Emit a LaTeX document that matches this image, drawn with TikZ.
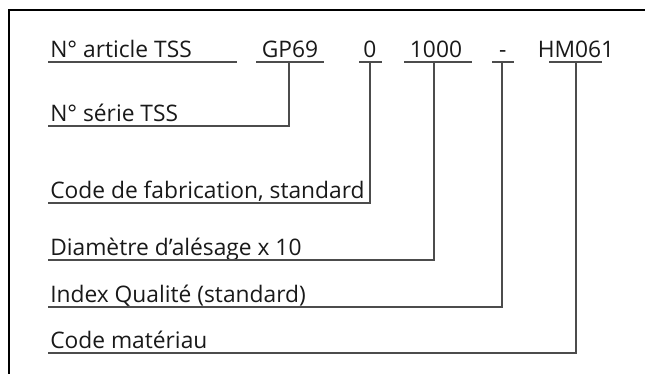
\documentclass[tikz,border=0pt]{standalone}
\usepackage{fontspec}
\setmainfont{Open Sans}
\begin{document}
\begin{tikzpicture}[
	lbl/.style = {anchor=base west, inner sep=0pt, text=black!90, font=\fontsize{16.2}{18}\selectfont},
	code/.style = {anchor=base, inner sep=0pt, text=black!90, font=\fontsize{16.2}{18}\selectfont},
	rule/.style = {draw=black!70, line width=0.8pt}
]
	\useasboundingbox (0,0) rectangle (16.125,9.35);

	% Frame
	\draw[line width=1.5pt] (0.225,0) -- (0.225,9.1) -- (16.125,9.1);

	% Nodes
	\node[lbl] (art) at (1.25,7.9) {N° article TSS};
	\node[code] (gp) at (7.25,7.9) {GP69};
	\node[code] (fab) at (9.25,7.9) {0};
	\node[code] (dia) at (10.9,7.9) {1000};
	\node[code] (qual) at (12.57,7.9) {-};
	\node[code] (mat) at (14.4,7.9) {HM061};

	\node[lbl] (serie) at (1.25,6.3) {N° série TSS};
	\node[lbl] (fabl) at (1.25,4.375) {Code de fabrication, standard};
	\node[lbl] (dial) at (1.25,2.95) {Diamètre d’alésage x 10};
	\node[lbl] (quall) at (1.25,1.775) {Index Qualité (standard)};
	\node[lbl] (matl) at (1.25,0.625) {Code matériau};

	% Underlines
	\draw[rule] (1.2,7.8) -- (5.925,7.8);
	\draw[rule] (6.4,7.8) -- (8.1,7.8);
	\draw[rule] (8.975,7.8) -- (9.55,7.8);
	\draw[rule] (10.1,7.8) -- (11.8,7.8);
	\draw[rule] (12.3,7.8) -- (12.85,7.8);
	\draw[rule] (13.725,7.8) -- (15.05,7.8);

	\coordinate (gpT) at (7.225,7.8);
	\coordinate (fabT) at (9.25,7.8);
	\coordinate (diaT) at (10.85,7.8);
	\coordinate (qualT) at (12.55,7.8);
	\coordinate (matT) at (14.4,7.8);

	\coordinate (serieB) at (1.2,6.2);
	\coordinate (fabB) at (1.2,4.275);
	\coordinate (diaB) at (1.2,2.85);
	\coordinate (qualB) at (1.2,1.675);
	\coordinate (matB) at (1.2,0.525);

	% Arrows
	\draw[rule] (serieB) -| (gpT);
	\draw[rule] (fabB) -| (fabT);
	\draw[rule] (diaB) -| (diaT);
	\draw[rule] (qualB) -| (qualT);
	\draw[rule] (matB) -| (matT);
\end{tikzpicture}
\end{document}
